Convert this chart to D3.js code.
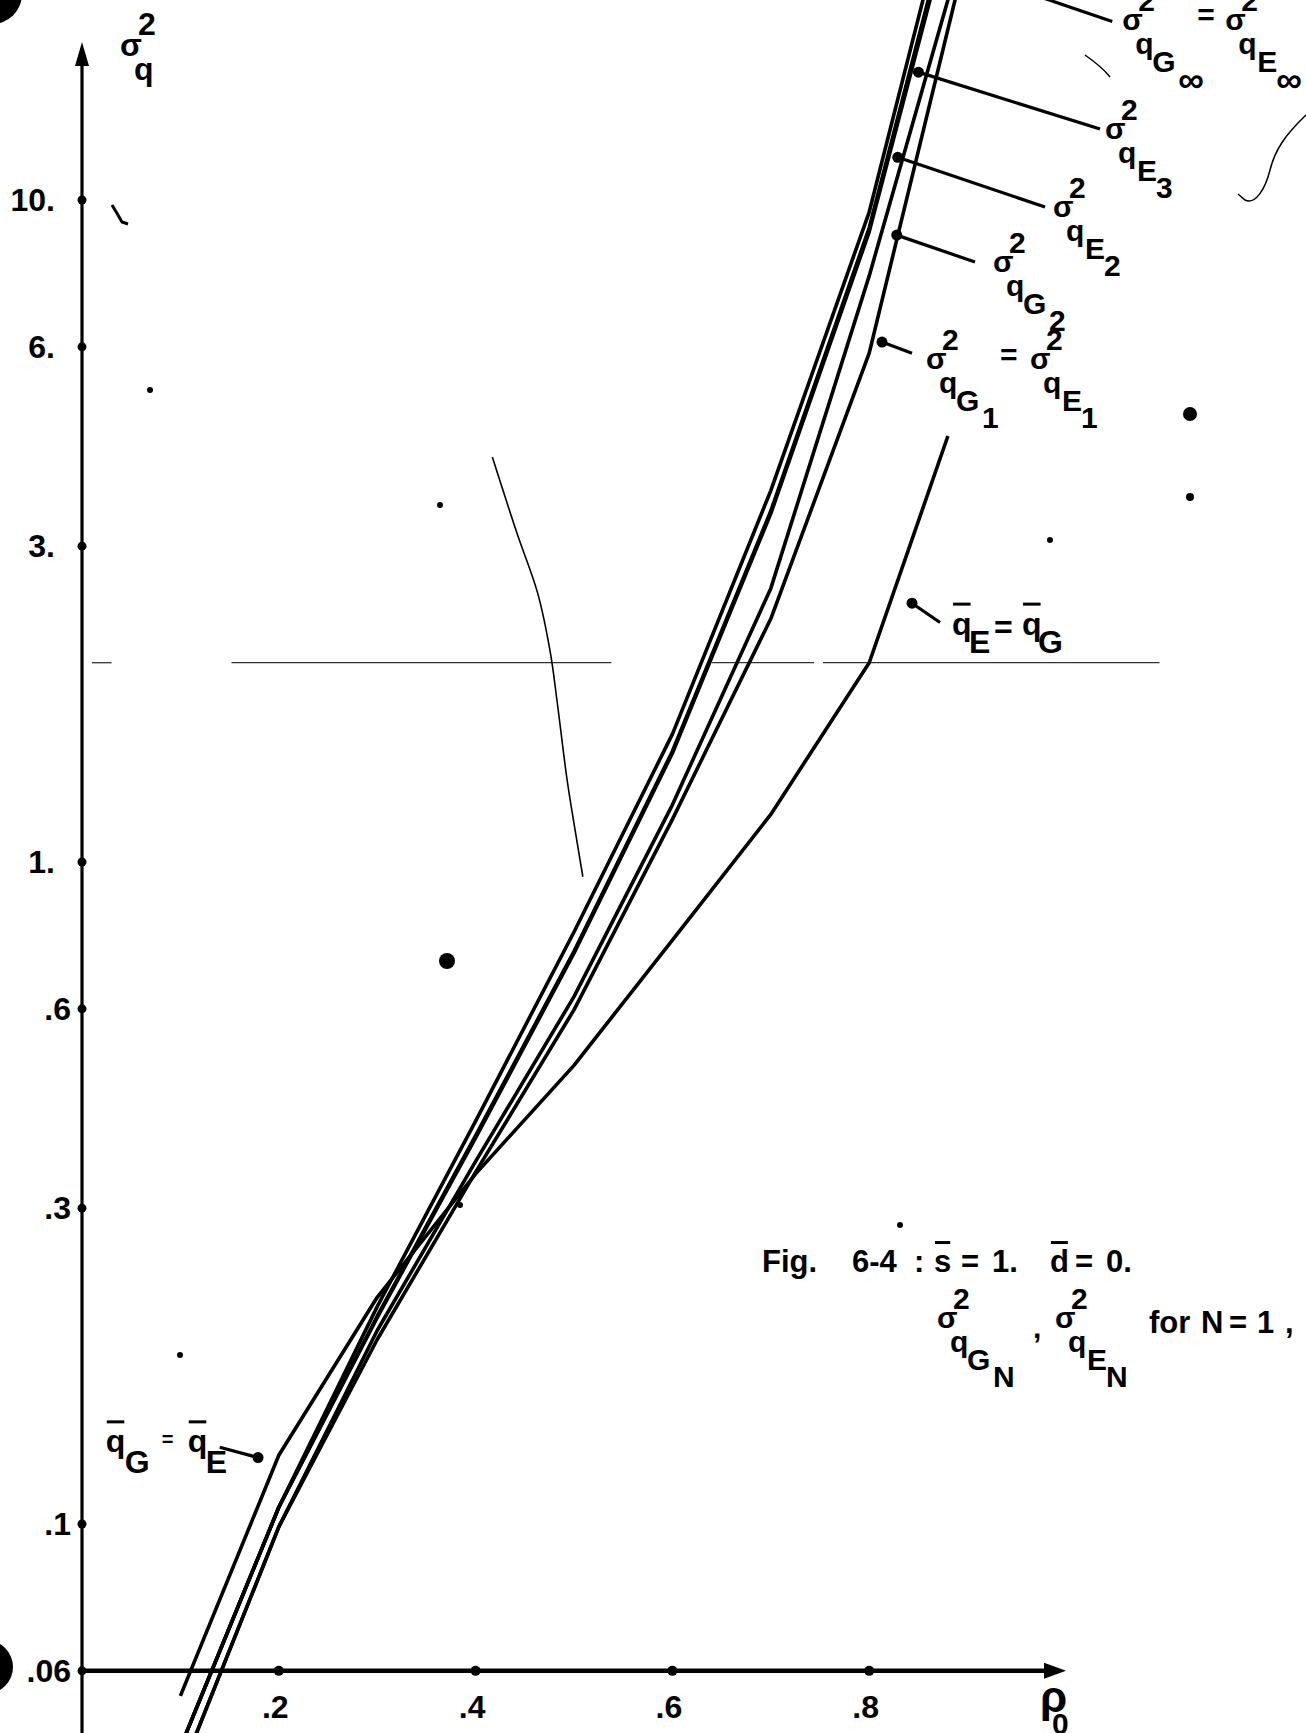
<!DOCTYPE html>
<html>
<head>
<meta charset="utf-8">
<script src="https://cdn.jsdelivr.net/npm/d3@7"></script>
<style>
  html, body { margin: 0; padding: 0; background: #fff; }
  svg { display: block; }
  text { font-family: "Liberation Sans", Arial, sans-serif; font-weight: bold; fill: #000; }
</style>
</head>
<body>
<div id="chart"></div>
<script>
const WIDTH = 1306;
const HEIGHT = 1733;

// rho_0 values the variances were computed at
const rho = [0.1, 0.2, 0.3, 0.4, 0.5, 0.6, 0.7, 0.8, 0.9];
const sigmaGInf = [0.046, 0.106, 0.213, 0.406, 0.784, 1.56, 3.64, 9.59, 37.0];
const sigmaE3 = [0.046, 0.106, 0.206, 0.386, 0.733, 1.47, 3.39, 9.08, 34.0];
const sigmaE2 = [0.046, 0.106, 0.205, 0.383, 0.728, 1.46, 3.36, 8.95, 33.0];
const sigmaG2 = [0.042, 0.099, 0.196, 0.353, 0.626, 1.22, 2.59, 7.68, 25.5];
const sigmaG1 = [0.042, 0.099, 0.190, 0.340, 0.598, 1.16, 2.33, 5.87, 24.0];

// qbar_E = qbar_G curve stops short of .9
const rhoQbar = [0.1, 0.2, 0.3, 0.4, 0.5, 0.6, 0.7, 0.8, 0.88];
const qbarEqual = [0.055, 0.127, 0.22, 0.338, 0.493, 0.762, 1.18, 2.0, 4.4];

const yTicks = [0.06, 0.1, 0.3, 0.6, 1, 3, 6, 10];
const yTickLabels = ['.06', '.1', '.3', '.6', '1.', '3.', '6.', '10.'];
const xTicks = [0.2, 0.4, 0.6, 0.8];
const xTickLabels = ['.2', '.4', '.6', '.8'];

// faint ruled line at sigma^2 = 2 (broken in the original)
const ruleValue = 2.0;
const ruleSpans = [[0.01, 0.03], [0.152, 0.538], [0.64, 0.744], [0.753, 1.095]];

// pencilled pointer stroke (rho, sigma^2)
const pencilRho = [0.417, 0.442, 0.463, 0.476, 0.483, 0.493, 0.501, 0.509];
const pencilVal = [4.09, 3.14, 2.55, 2.07, 1.74, 1.33, 1.12, 0.95];

const x = d3.scaleLinear().domain([0, 1]).range([82, 1066]);
const y = d3.scaleLog().domain([1, 10]).range([862, 200]);

const svg = d3.select('#chart').append('svg')
  .attr('width', WIDTH)
  .attr('height', HEIGHT)
  .attr('viewBox', `0 0 ${WIDTH} ${HEIGHT}`);

svg.append('rect').attr('width', WIDTH).attr('height', HEIGHT).attr('fill', '#fff');

const root = svg.append('g');

// ---- ruled line + pencil stroke
root.selectAll('line.rule').data(ruleSpans).join('line')
  .attr('class', 'rule')
  .attr('x1', d => x(d[0])).attr('x2', d => x(d[1]))
  .attr('y1', y(ruleValue)).attr('y2', y(ruleValue))
  .attr('stroke', '#333').attr('stroke-width', 1.3);

root.append('path')
  .attr('d', d3.line().curve(d3.curveCatmullRom)(d3.zip(pencilRho.map(x), pencilVal.map(y))))
  .attr('fill', 'none').attr('stroke', '#000').attr('stroke-width', 1.6);

// ---- curves
const curves = [
  { id: 'gInf', xs: rho, values: sigmaGInf },
  { id: 'e3', xs: rho, values: sigmaE3 },
  { id: 'e2', xs: rho, values: sigmaE2 },
  { id: 'g2', xs: rho, values: sigmaG2 },
  { id: 'g1', xs: rho, values: sigmaG1 },
  { id: 'qbar', xs: rhoQbar, values: qbarEqual },
];

const line = d3.line().x(d => x(d[0])).y(d => y(d[1]));

root.selectAll('path.curve').data(curves).join('path')
  .attr('class', 'curve')
  .attr('d', c => line(d3.zip(c.xs, c.values)))
  .attr('fill', 'none')
  .attr('stroke', '#000')
  .attr('stroke-width', 3.6)
  .attr('stroke-linejoin', 'round');

// ---- axes
const x0 = x(0);
const yAxisY = y(0.06);

root.append('line')
  .attr('x1', x0).attr('x2', x0)
  .attr('y1', 60).attr('y2', HEIGHT)
  .attr('stroke', '#000').attr('stroke-width', 3.2);
root.append('path')
  .attr('d', `M${x0},42 L${x0 - 7},66 L${x0 + 7},66 Z`)
  .attr('fill', '#000');

root.append('line')
  .attr('x1', x0).attr('x2', x(1) - 14)
  .attr('y1', yAxisY).attr('y2', yAxisY)
  .attr('stroke', '#000').attr('stroke-width', 4.5);
root.append('path')
  .attr('d', `M${x(1)},${yAxisY} L${x(1) - 22},${yAxisY - 8} L${x(1) - 22},${yAxisY + 8} Z`)
  .attr('fill', '#000');

const yAxis = d3.axisLeft(y)
  .tickValues(yTicks)
  .tickSize(0)
  .tickPadding(27)
  .tickFormat((d, i) => yTickLabels[i]);

const yAxisG = root.append('g')
  .attr('transform', `translate(${x0},0)`)
  .call(yAxis);
yAxisG.select('.domain').remove();
yAxisG.selectAll('text')
  .attr('font-size', 32)
  .attr('font-family', '"Liberation Sans", Arial, sans-serif')
  .attr('font-weight', 'bold')
  .attr('dx', (d, i) => yTickLabels[i].startsWith('.') ? 16 : 0);

const xAxis = d3.axisBottom(x)
  .tickValues(xTicks)
  .tickSize(0)
  .tickPadding(24)
  .tickFormat((d, i) => xTickLabels[i]);

const xAxisG = root.append('g')
  .attr('transform', `translate(0,${yAxisY})`)
  .call(xAxis);
xAxisG.select('.domain').remove();
xAxisG.selectAll('text')
  .attr('font-size', 32)
  .attr('dx', -4)
  .attr('font-family', '"Liberation Sans", Arial, sans-serif')
  .attr('font-weight', 'bold');

root.selectAll('circle.ytick').data(yTicks).join('circle')
  .attr('class', 'ytick')
  .attr('cx', x0).attr('cy', d => y(d)).attr('r', 4.5).attr('fill', '#000');
root.selectAll('circle.xtick').data(xTicks).join('circle')
  .attr('class', 'xtick')
  .attr('cx', d => x(d)).attr('cy', yAxisY).attr('r', 5).attr('fill', '#000');

// ---- label helper: parts placed relative to an origin, optional overbar
function richLabel(g, ox, oy, parts, size = 30) {
  const grp = g.append('g');
  parts.forEach(p => {
    const fs = p.fs || size;
    const t = grp.append('text')
      .attr('x', ox + (p.dx || 0))
      .attr('y', oy + (p.dy || 0))
      .attr('font-size', fs)
      .text(p.t);
    if (p.bar) {
      const bb = t.node().getBBox();
      grp.append('line')
        .attr('x1', bb.x + 1).attr('x2', bb.x + bb.width - 1)
        .attr('y1', oy + (p.dy || 0) - fs * 0.95)
        .attr('y2', oy + (p.dy || 0) - fs * 0.95)
        .attr('stroke', '#000').attr('stroke-width', 3);
    }
  });
  return grp;
}

function sig(sub, idx, dx0 = 0) {
  const isG = sub === 'G';
  const inf = idx === '∞';
  return [
    { t: 'σ', dx: dx0, dy: 0 },
    { t: '2', dx: dx0 + 16, dy: -19 },
    { t: 'q', dx: dx0 + 13, dy: 24 },
    { t: sub, dx: dx0 + (isG ? 30 : 32), dy: 42 },
    { t: idx, dx: dx0 + (isG ? 56 : 51), dy: inf ? 62 : 59, fs: inf ? 36 : undefined },
  ];
}

// ---- leader arrows (rho, sigma^2) -> label
const leaders = [
  { from: [0.862, 23.1], to: [1.047, 18.6], off: [10, 8],
    parts: [...sig('G', '∞'), { t: '=', dx: 75, dy: -5 }, ...sig('E', '∞', 103)] },
  { from: [0.850, 15.6], to: [1.0346, 12.8], off: [5, 10], parts: sig('E', '3') },
  { from: [0.829, 11.6], to: [0.9787, 9.76], off: [8, 10], parts: sig('E', '2') },
  { from: [0.828, 8.85], to: [0.9075, 8.06], off: [18, 10], parts: sig('G', '2') },
  { from: [0.813, 6.10], to: [0.8435, 5.87], off: [14, 16],
    parts: [...sig('G', '1'), { t: '=', dx: 74, dy: -4 }, ...sig('E', '1', 104)] },
  { from: [0.8435, 2.46], to: [0.872, 2.30], off: [12, 12], size: 32,
    parts: [{ t: 'q', bar: true }, { t: 'E', dx: 17, dy: 18 }, { t: '=', dx: 42, dy: 3 },
            { t: 'q', dx: 70, bar: true }, { t: 'G', dx: 86, dy: 18 }] },
  { from: [0.1789, 0.126], to: [0.140, 0.1306], off: [-114, 5], size: 32,
    parts: [{ t: 'q', bar: true }, { t: 'G', dx: 19, dy: 21 }, { t: '=', dx: 56, dy: -6, fs: 20 },
            { t: 'q', dx: 82, bar: true }, { t: 'E', dx: 100, dy: 21 }] },
];

leaders.forEach(l => {
  const fx = x(l.from[0]), fy = y(l.from[1]);
  const tx = x(l.to[0]), ty = y(l.to[1]);
  root.append('line')
    .attr('x1', fx).attr('y1', fy).attr('x2', tx).attr('y2', ty)
    .attr('stroke', '#000').attr('stroke-width', 3.2);
  root.append('circle').attr('cx', fx).attr('cy', fy).attr('r', 5.5).attr('fill', '#000');
  richLabel(root, tx + l.off[0], ty + l.off[1], l.parts, l.size || 30);
});

// ---- axis titles
richLabel(root, 120, 56, [
  { t: 'σ' }, { t: '2', dx: 18, dy: -21 }, { t: 'q', dx: 14, dy: 24 },
], 32);

richLabel(root, 1040, 1712, [
  { t: 'ρ', fs: 44 }, { t: '0', dx: 12, dy: 22, fs: 30 },
]);

// ---- caption, typed piece by piece
const capX = 762, capY = 1272;
richLabel(root, capX, capY, [
  { t: 'Fig.' }, { t: '6-4', dx: 90 }, { t: ':', dx: 152 },
  { t: 's', dx: 172, bar: true }, { t: '=', dx: 199 }, { t: '1.', dx: 230 },
  { t: 'd', dx: 288, bar: true }, { t: '=', dx: 313 }, { t: '0.', dx: 344 },
], 31);

richLabel(root, 937, 1328, [
  ...sig('G', 'N'),
  { t: ',', dx: 96, dy: 10 },
  ...sig('E', 'N', 118),
], 30);

richLabel(root, 1149, 1333, [
  { t: 'for' }, { t: 'N', dx: 52 }, { t: '=', dx: 80 }, { t: '1', dx: 108 }, { t: ',', dx: 136 },
], 31);

// ---- scan specks and hand marks
const blobs = [
  { cx: -8, cy: -6, r: 30 }, { cx: -14, cy: 1667, r: 27 },
  { cx: 447, cy: 961, r: 8 }, { cx: 1190, cy: 414, r: 7 }, { cx: 1190, cy: 497, r: 4 },
  { cx: 150, cy: 390, r: 3 }, { cx: 440, cy: 505, r: 3 }, { cx: 900, cy: 1225, r: 3 },
  { cx: 180, cy: 1355, r: 3 }, { cx: 460, cy: 1205, r: 3 }, { cx: 1050, cy: 540, r: 3 },
];
root.selectAll('circle.speck').data(blobs).join('circle')
  .attr('class', 'speck')
  .attr('cx', d => d.cx).attr('cy', d => d.cy).attr('r', d => d.r).attr('fill', '#000');

root.append('path')
  .attr('d', 'M1306,115 C1285,135 1275,150 1270,170 C1265,190 1255,205 1245,200 L1238,194')
  .attr('fill', 'none').attr('stroke', '#000').attr('stroke-width', 1.5);
root.append('path')
  .attr('d', 'M1085,55 C1095,62 1103,68 1110,77')
  .attr('fill', 'none').attr('stroke', '#000').attr('stroke-width', 1.5);
root.append('path')
  .attr('d', 'M112,205 L118,215 L122,222 L128,224')
  .attr('fill', 'none').attr('stroke', '#000').attr('stroke-width', 3);
</script>
</body>
</html>
